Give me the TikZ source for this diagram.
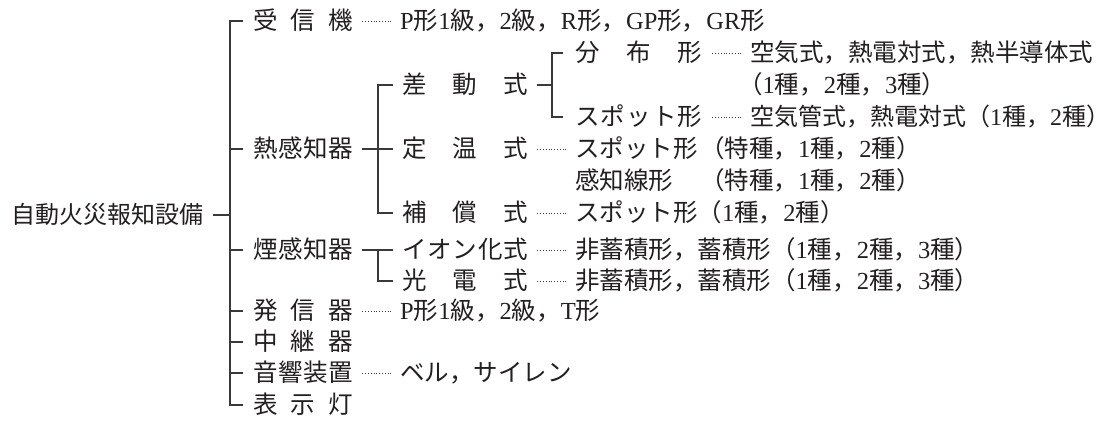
\documentclass[tikz,border=0pt]{standalone}
\usepackage{fontspec}
\setmainfont{Noto Sans CJK JP}
\newfontfamily\latf{Liberation Serif}
\newcommand\lsf[1]{{\latf #1}}
\newcommand\rpar{\makebox[0.5em][l]{）}}
\definecolor{ink}{HTML}{231F20}
\definecolor{rulec}{HTML}{3A3A3A}
\begin{document}
\begin{tikzpicture}[x=1pt,y=-1pt,
  txt/.style={anchor=west,inner sep=0pt,text height=21pt,text depth=3.4pt,font=\fontsize{24.5}{28}\selectfont,text=ink},
  ln/.style={draw=rulec,line width=1.2pt},
  lead/.style={draw=rulec,line width=1pt,dash pattern=on 1pt off 1.8pt}]
\useasboundingbox[fill=white] (0,0) rectangle (1110,423);
% root
\node[txt,font=\fontsize{24}{28}\selectfont] (root) at (11,215) {自動火災報知設備};
% level 1
\node[txt] (L0) at (253,21) {\makebox[100pt][s]{受\hfill 信\hfill 機}};
\node[txt] (heat) at (253,149) {\makebox[100pt][s]{熱\hfill 感\hfill 知\hfill 器}};
\node[txt] (smoke) at (253,250) {\makebox[100pt][s]{煙\hfill 感\hfill 知\hfill 器}};
\node[txt] (hassin) at (253,311) {\makebox[100pt][s]{発\hfill 信\hfill 器}};
\node[txt] (chukei) at (253,342) {\makebox[100pt][s]{中\hfill 継\hfill 器}};
\node[txt] (onkyo) at (253,373) {\makebox[100pt][s]{音\hfill 響\hfill 装\hfill 置}};
\node[txt] (hyouji) at (253,405) {\makebox[100pt][s]{表\hfill 示\hfill 灯}};
% level 2
\node[txt] (sadou) at (402,85) {\makebox[126pt][s]{差\hfill 動\hfill 式}};
\node[txt] (teion) at (402,149) {\makebox[126pt][s]{定\hfill 温\hfill 式}};
\node[txt] (hoshou) at (402,213) {\makebox[126pt][s]{補\hfill 償\hfill 式}};
\node[txt] (ion) at (402,250) {\makebox[126pt][s]{イ\hfill オ\hfill ン\hfill 化\hfill 式}};
\node[txt] (kouden) at (402,281) {\makebox[126pt][s]{光\hfill 電\hfill 式}};
% level 3
\node[txt] (bunpu) at (575,53) {\makebox[127pt][s]{分\hfill 布\hfill 形}};
\node[txt] (spotA) at (575,117) {\makebox[127pt][s]{ス\hfill ポ\hfill ッ\hfill ト\hfill 形}};
% values
\node[txt] (v0) at (400,21) {\lsf{P}形\lsf{1}級，\lsf{2}級，\lsf{R}形，\lsf{GP}形，\lsf{GR}形};
\node[txt] (vbun) at (750,53) {空気式，熱電対式，熱半導体式};
\node[txt] (vbun2) at (738,85) {（\lsf{1}種，\lsf{2}種，\lsf{3}種\rpar};
\node[txt,font=\fontsize{24}{28}\selectfont] (vspA) at (750,117) {空気管式，熱電対式（\lsf{1}種，\lsf{2}種\rpar};
\node[txt] (vte1) at (575,149) {スポット形};
\node[txt] (vte1b) at (700,149) {（特種，\lsf{1}種，\lsf{2}種\rpar};
\node[txt] (vte2) at (575,181) {感知線形};
\node[txt] (vte2b) at (700,181) {（特種，\lsf{1}種，\lsf{2}種\rpar};
\node[txt] (vho) at (575,213) {スポット形（\lsf{1}種，\lsf{2}種\rpar};
\node[txt] (vion) at (575,250) {非蓄積形，蓄積形（\lsf{1}種，\lsf{2}種，\lsf{3}種\rpar};
\node[txt] (vkou) at (575,281) {非蓄積形，蓄積形（\lsf{1}種，\lsf{2}種，\lsf{3}種\rpar};
\node[txt] (vhas) at (400,311) {\lsf{P}形\lsf{1}級，\lsf{2}級，\lsf{T}形};
\node[txt] (vonk) at (400,373) {ベル，サイレン};
% bracket axes
\coordinate (T) at (230,0);
\coordinate (B1) at (378,0);
\coordinate (B2) at (552,0);
% trunk
\draw[ln] ([xshift=-10pt]L0.west) -| (T |- hyouji.west) -- ([xshift=-10pt]hyouji.west);
\foreach \n in {heat,smoke,hassin,chukei,onkyo} \draw[ln] (T |- \n.west) -- ([xshift=-10pt]\n.west);
\draw[ln] ([xshift=10pt]root.east) -- (T |- root.east);
% heat detectors
\draw[ln] ([xshift=9pt]heat.east) -- ([xshift=-9pt]teion.west);
\draw[ln] ([xshift=-9pt]sadou.west) -| (B1 |- hoshou.west) -- ([xshift=-9pt]hoshou.west);
% smoke detectors
\draw[ln] ([xshift=9pt]smoke.east) -- ([xshift=-9pt]ion.west);
\draw[ln] (B1 |- ion.west) |- ([xshift=-9pt]kouden.west);
% differential
\draw[ln] ([xshift=9pt]sadou.east) -- (B2 |- sadou.east);
\draw[ln] ([xshift=-12pt]bunpu.west) -| (B2 |- spotA.west) -- ([xshift=-12pt]spotA.west);
% leaders
\draw[lead] ([xshift=9pt]L0.east) -- ([xshift=-7pt]v0.west);
\draw[lead] ([xshift=9pt]hassin.east) -- ([xshift=-7pt]vhas.west);
\draw[lead] ([xshift=9pt]onkyo.east) -- ([xshift=-7pt]vonk.west);
\draw[lead] ([xshift=9pt]teion.east) -- ([xshift=-8pt]vte1.west);
\draw[lead] ([xshift=9pt]hoshou.east) -- ([xshift=-8pt]vho.west);
\draw[lead] ([xshift=9pt]ion.east) -- ([xshift=-8pt]vion.west);
\draw[lead] ([xshift=9pt]kouden.east) -- ([xshift=-8pt]vkou.west);
\draw[lead] ([xshift=10pt]bunpu.east) -- ([xshift=-8pt]vbun.west);
\draw[lead] ([xshift=10pt]spotA.east) -- ([xshift=-8pt]vspA.west);
\end{tikzpicture}
\end{document}
